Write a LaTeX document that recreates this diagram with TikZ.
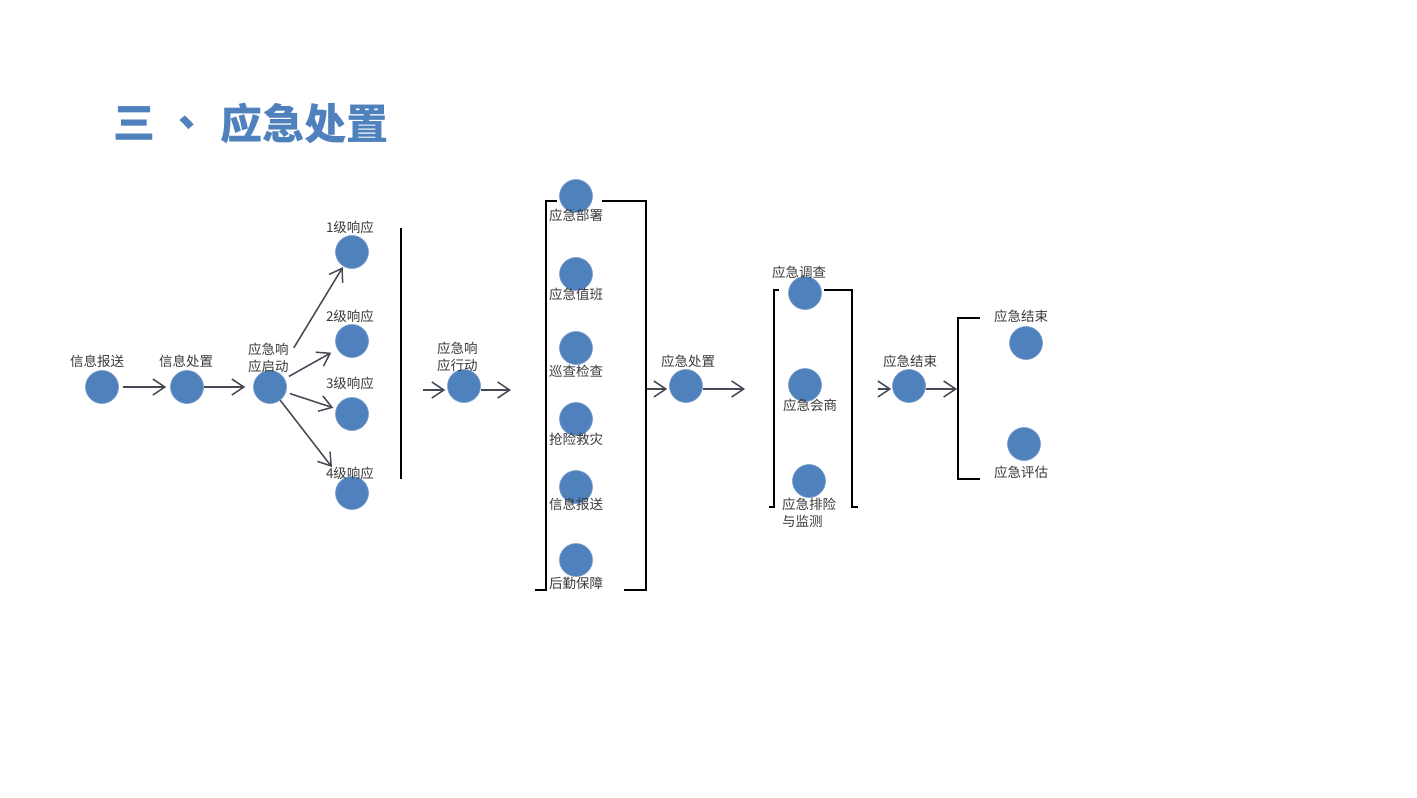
\documentclass[tikz,border=0pt]{standalone}
\usepackage{fontspec}
\setmainfont{Noto Sans CJK SC}
\usetikzlibrary{arrows.meta}
\definecolor{dotblue}{HTML}{4F81BD}
\definecolor{arrgray}{HTML}{474756}
\definecolor{labgray}{HTML}{3A3A3A}
\tikzset{
  dot/.style={circle, fill=dotblue, draw=dotblue!75!white, line width=0.6pt, minimum size=33pt, inner sep=0pt},
  lab/.style={font=\fontsize{13.5}{17}\selectfont, text=labgray, inner sep=0pt, align=left},
  arr/.style={draw=arrgray, line width=1.5pt, -{Straight Barb[length=12pt,width=16pt,line width=1.5pt]}},
  brk/.style={draw=black, line width=1.8pt},
  ttl/.style={inner sep=0pt, text=dotblue, font=\fontsize{42}{46}\selectfont\bfseries, anchor=west},
}
\begin{document}
\begin{tikzpicture}[x=1pt,y=-1pt]
\useasboundingbox[fill=white] (0,0) rectangle (1417,798);
% title
\node[ttl] (title1) at (113,123) {三};
\node[ttl] (title2) at (178,123) {、};
\node[ttl] (title3) at (220,123) {应急处置};
% brackets and bar
\draw[brk] (401,228) -- (401,479);
\draw[brk] (557,201) -- (546,201) -- (546,590) -- (535,590);
\draw[brk] (602,201) -- (646,201) -- (646,590) -- (624,590);
\draw[brk] (779,290) -- (774,290) -- (774,507) -- (769,507);
\draw[brk] (824,290) -- (852,290) -- (852,507) -- (858,507);
\draw[brk] (980,318) -- (958,318) -- (958,479) -- (980,479);
% circles
\node[dot] (xb) at (102,387) {};
\node[dot] (xc) at (187,387) {};
\node[dot] (qd) at (270,387) {};
\node[dot] (l1) at (352,252) {};
\node[dot] (l2) at (352,341) {};
\node[dot] (l3) at (352,414) {};
\node[dot] (l4) at (352,493) {};
\node[dot] (xd) at (464,386) {};
\node[dot] (b1) at (576,196) {};
\node[dot] (b2) at (576,274) {};
\node[dot] (b3) at (576,348) {};
\node[dot] (b4) at (576,419) {};
\node[dot] (b5) at (576,487) {};
\node[dot] (b6) at (576,560) {};
\node[dot] (cz) at (686,386) {};
\node[dot] (d1) at (805,293) {};
\node[dot] (d2) at (805,385) {};
\node[dot] (d3) at (809,481) {};
\node[dot] (js) at (909,386) {};
\node[dot] (e1) at (1026,343) {};
\node[dot] (e2) at (1024,444) {};
% free ends
\coordinate (c1) at (423,390);
\coordinate (c2) at (511,390);
\coordinate (c3) at (647,389);
\coordinate (c4) at (745,389);
\coordinate (c5) at (878,389);
\coordinate (c6) at (957,389);
% arrows
\draw[arr, shorten <=4pt, shorten >=4pt] (xb) -- (xc);
\draw[arr, shorten >=8pt] (xc) -- (qd);
\draw[arr, shorten <=29pt, shorten >=1pt] (qd) -- (l1);
\draw[arr, shorten <=5pt, shorten >=7pt] (qd) -- (l2);
\draw[arr, shorten <=4pt, shorten >=3pt] (qd) -- (l3);
\draw[arr, shorten >=16pt] (qd) -- (l4);
\draw[arr, shorten >=2pt] (c1) -- (xd.west |- c1);
\draw[arr] (xd.east |- c2) -- (c2);
\draw[arr, shorten >=2pt] (c3) -- (cz.west |- c3);
\draw[arr] (cz.east |- c4) -- (c4);
\draw[arr, shorten >=1pt] (c5) -- (js.west |- c5);
\draw[arr] (js.east |- c6) -- (c6);
% labels
\node[lab] (t-xb) at (97,361) {信息报送};
\node[lab] (t-xc) at (186,361) {信息处置};
\node[lab, anchor=west] (t-qd) at (248,358) {应急响\\应启动};
\node[lab] (t-l1) at (350,227) {1级响应};
\node[lab] (t-l2) at (350,316) {2级响应};
\node[lab] (t-l3) at (350,383) {3级响应};
\node[lab] (t-l4) at (350,473) {4级响应};
\node[lab, anchor=west] (t-xd) at (437,357) {应急响\\应行动};
\node[lab] (t-b1) at (576,215) {应急部署};
\node[lab] (t-b2) at (576,294) {应急值班};
\node[lab] (t-b3) at (576,371) {巡查检查};
\node[lab] (t-b4) at (576,439) {抢险救灾};
\node[lab] (t-b5) at (576,504) {信息报送};
\node[lab] (t-b6) at (576,583) {后勤保障};
\node[lab] (t-cz) at (688,361) {应急处置};
\node[lab] (t-d1) at (799,272) {应急调查};
\node[lab] (t-d2) at (810,405) {应急会商};
\node[lab, anchor=west] (t-d3) at (782,513) {应急排险\\与监测};
\node[lab] (t-js) at (910,361) {应急结束};
\node[lab] (t-e1) at (1021,316) {应急结束};
\node[lab] (t-e2) at (1021,472) {应急评估};
\end{tikzpicture}
\end{document}
